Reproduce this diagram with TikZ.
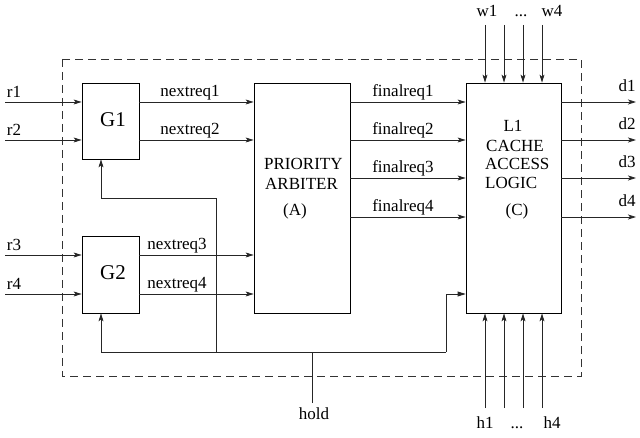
\documentclass[tikz,border=0pt]{standalone}
\usepackage{fontspec}
\setmainfont{Liberation Serif}
\usetikzlibrary{arrows.meta}
\begin{document}
\begin{tikzpicture}[x=1pt,y=-1pt,
  wire/.style={line width=0.8pt,draw=black!85},
  arr/.style={wire,-{Stealth[length=8pt,width=5pt,inset=2pt]}},
  farr/.style={wire,-{Triangle[length=8pt,width=5pt]}},
  blk/.style={draw,line width=0.8pt,rectangle,inner sep=0pt},
  lbl/.style={font=\fontsize{17}{18}\selectfont,inner sep=0pt,anchor=base},
  biglbl/.style={lbl,font=\fontsize{21}{22}\selectfont},
  lbll/.style={lbl,anchor=base west},
  dashbox/.style={line width=0.8pt,draw=black!80,dash pattern=on 8pt off 5pt}]
\useasboundingbox (0,0) rectangle (640,438);
% dashed enclosure
\draw[dashbox] (62,59) rectangle (581,376);
% blocks
\node[blk,minimum width=57pt,minimum height=76pt] (G1) at (110.5,121) {};
\node[blk,minimum width=57pt,minimum height=77pt] (G2) at (110.5,274.5) {};
\node[blk,minimum width=96pt,minimum height=230pt] (PA) at (302,198) {};
\node[blk,minimum width=95pt,minimum height=230pt] (C) at (513.5,198) {};
\node[biglbl] (g1t) at (113,127) {G1};
\node[biglbl] (g2t) at (113,280) {G2};
% arbiter text
\node[lbll] (pa1) at (264,170) {PRIORITY};
\node[lbll] (pa2) at (265,190) {ARBITER};
\node[lbl] (pa3) at (295,216) {(A)};
% cache text
\node[lbl] (c1) at (513,132) {L1};
\node[lbll] (c2) at (486,152) {CACHE};
\node[lbll] (c3) at (485,170) {ACCESS};
\node[lbll] (c4) at (485,189) {LOGIC};
\node[lbl] (c5) at (517,216) {(C)};
% inputs r
\coordinate (r1) at (5,102);
\coordinate (r2) at (5,140);
\coordinate (r3) at (5,255);
\coordinate (r4) at (5,294);
\node[lbl] (r1t) at (14,98) {r1};
\node[lbl] (r2t) at (14,136) {r2};
\node[lbl] (r3t) at (14,251) {r3};
\node[lbl] (r4t) at (14,290) {r4};
\draw[arr] (r1) -- (r1 -| G1.west);
\draw[arr] (r2) -- (r2 -| G1.west);
\draw[arr] (r3) -- (r3 -| G2.west);
\draw[arr] (r4) -- (r4 -| G2.west);
% nextreq
\draw[arr] (G1.east |- r1) -- (PA.west |- r1);
\draw[arr] (G1.east |- r2) -- (PA.west |- r2);
\draw[arr] (G2.east |- r3) -- (PA.west |- r3);
\draw[arr] (G2.east |- r4) -- (PA.west |- r4);
\node[lbl] (n1) at (190,97) {nextreq1};
\node[lbl] (n2) at (190,135) {nextreq2};
\node[lbl] (n3) at (177,250) {nextreq3};
\node[lbl] (n4) at (177,289) {nextreq4};
% finalreq
\coordinate (f1) at (350,102);
\coordinate (f2) at (350,140);
\coordinate (f3) at (350,178);
\coordinate (f4) at (350,217);
\draw[arr] (f1) -- (f1 -| C.west);
\draw[arr] (f2) -- (f2 -| C.west);
\draw[arr] (f3) -- (f3 -| C.west);
\draw[arr] (f4) -- (f4 -| C.west);
\node[lbl] (fr1) at (403,97) {finalreq1};
\node[lbl] (fr2) at (403,135) {finalreq2};
\node[lbl] (fr3) at (403,173) {finalreq3};
\node[lbl] (fr4) at (403,212) {finalreq4};
% outputs d
\coordinate (d1) at (636,102);
\coordinate (d2) at (636,140);
\coordinate (d3) at (636,178);
\coordinate (d4) at (636,217);
\draw[arr] (C.east |- d1) -- (d1);
\draw[arr] (C.east |- d2) -- (d2);
\draw[arr] (C.east |- d3) -- (d3);
\draw[arr] (C.east |- d4) -- (d4);
\node[lbl] (d1t) at (627,92) {d1};
\node[lbl] (d2t) at (627,130) {d2};
\node[lbl] (d3t) at (627,168) {d3};
\node[lbl] (d4t) at (627,207) {d4};
% w inputs
\foreach \i/\xx in {1/485,2/504,3/523,4/542}{
  \coordinate (w\i) at (\xx,25);
  \draw[arr] (w\i) -- (w\i |- C.north);
  \coordinate (h\i) at (\xx,408);
  \draw[arr] (h\i) -- (h\i |- C.south);
}
\node[lbl] (w1t) at (487,17) {w1};
\node[lbl] (wdt) at (521,17) {...};
\node[lbl] (w4t) at (552,17) {w4};
\node[lbl] (h1t) at (485,428) {h1};
\node[lbl] (hdt) at (517,428) {...};
\node[lbl] (h4t) at (552,428) {h4};
% hold network
\coordinate (hb) at (101,352);
\coordinate (hj) at (216,352);
\coordinate (hk) at (216,198);
\coordinate (hl) at (101,198);
\coordinate (hh) at (312,352);
\coordinate (hm) at (446,352);
\coordinate (hn) at (446,294);
\coordinate (hs) at (312,403);
\draw[wire] (hs) -- (hh);
\draw[arr] (hm) -- (hb) -- (hb |- G2.south);
\draw[arr] (hj) -- (hk) -- (hl) -- (hl |- G1.south);
\draw[farr] (hm) -- (hn) -- (hn -| C.west);
\node[lbl] (holdt) at (314,419) {hold};
\end{tikzpicture}
\end{document}
